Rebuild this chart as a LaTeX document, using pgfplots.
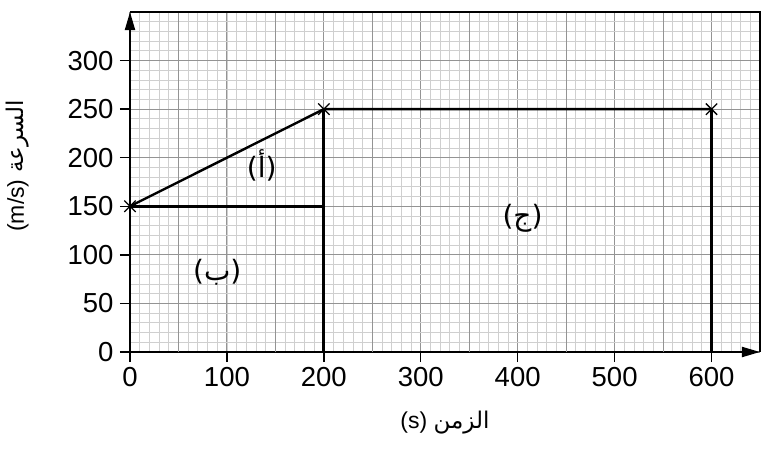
\documentclass[border=0pt]{standalone}
\usepackage{fontspec}
\setmainfont{Liberation Sans}
\newfontfamily\arabicfont[Script=Arabic]{DejaVu Sans}
\TeXXeTstate=1
\usepackage{pgfplots}
\pgfplotsset{compat=1.18}
\usetikzlibrary{arrows.meta}
\begin{document}
\begin{tikzpicture}
\begin{axis}[
  at={(0,0)}, anchor=south west,
  scale only axis, width=630pt, height=340pt,
  xmin=0, xmax=650, ymin=0, ymax=350,
  axis lines*=left,
  axis line style={line width=1.9pt, -{Triangle[length=18pt,width=10pt]}},
  xtick={0,100,...,600}, ytick={0,50,...,300},
  extra x ticks={50,150,...,650}, extra x tick labels={},
  extra x tick style={major tick length=0pt, grid=major},
  extra y ticks={350}, extra y tick labels={},
  extra y tick style={major tick length=0pt, grid=major},
  minor xtick={0,10,...,650}, minor ytick={0,10,...,350},
  grid=both,
  major grid style={draw=black!42, line width=1.1pt},
  minor grid style={draw=black!19, line width=0.75pt},
  minor tick length=0pt, major tick length=10pt, tick align=outside,
  tick style={black, line width=1.4pt},
  /pgf/number format/assume math mode=true,
  ticklabel style={font=\fontsize{27.5}{32}\selectfont},
  xticklabel style={yshift=-2pt},
  yticklabel style={xshift=-3pt},
  xlabel={\beginL(s)\endL\ {\arabicfont\beginR الزمن\endR}},
  ylabel={\beginL(m/s)\endL\ {\arabicfont\beginR السرعة\endR}},
  xlabel style={font=\fontsize{23}{27}\selectfont, at={(axis description cs:0.5,0)}, anchor=center, yshift=-71pt},
  ylabel style={font=\fontsize{23}{27}\selectfont, at={(axis description cs:0,0.5)}, anchor=center, xshift=16pt, yshift=112pt},
  clip=false,
]
\addplot[black, line width=2.4pt] coordinates {(0,150) (200,250) (600,250)};
\addplot[black, line width=2.6pt] coordinates {(0,150) (200,150)};
\addplot[black, line width=3.2pt] coordinates {(200,250) (200,0)};
\addplot[black, line width=3.2pt] coordinates {(600,250) (600,0)};
\addplot[only marks, mark=x, mark size=8pt, mark options={black, line width=1.3pt}] coordinates {(0,150) (200,250) (600,250)};
\draw[black, line width=1.6pt] (axis cs:0,350) -| (axis cs:650,0);
\node[font=\fontsize{28}{32}\selectfont] at (axis cs:136,192) {\arabicfont\beginR(أ)\endR};
\node[font=\fontsize{28}{32}\selectfont] at (axis cs:90,82) {\arabicfont\beginR(ب)\endR};
\node[font=\fontsize{28}{32}\selectfont] at (axis cs:405,138) {\arabicfont\beginR(ج)\endR};
\end{axis}
\path[use as bounding box] (-130pt,-99pt) rectangle (639pt,352pt);
\end{tikzpicture}
\end{document}
